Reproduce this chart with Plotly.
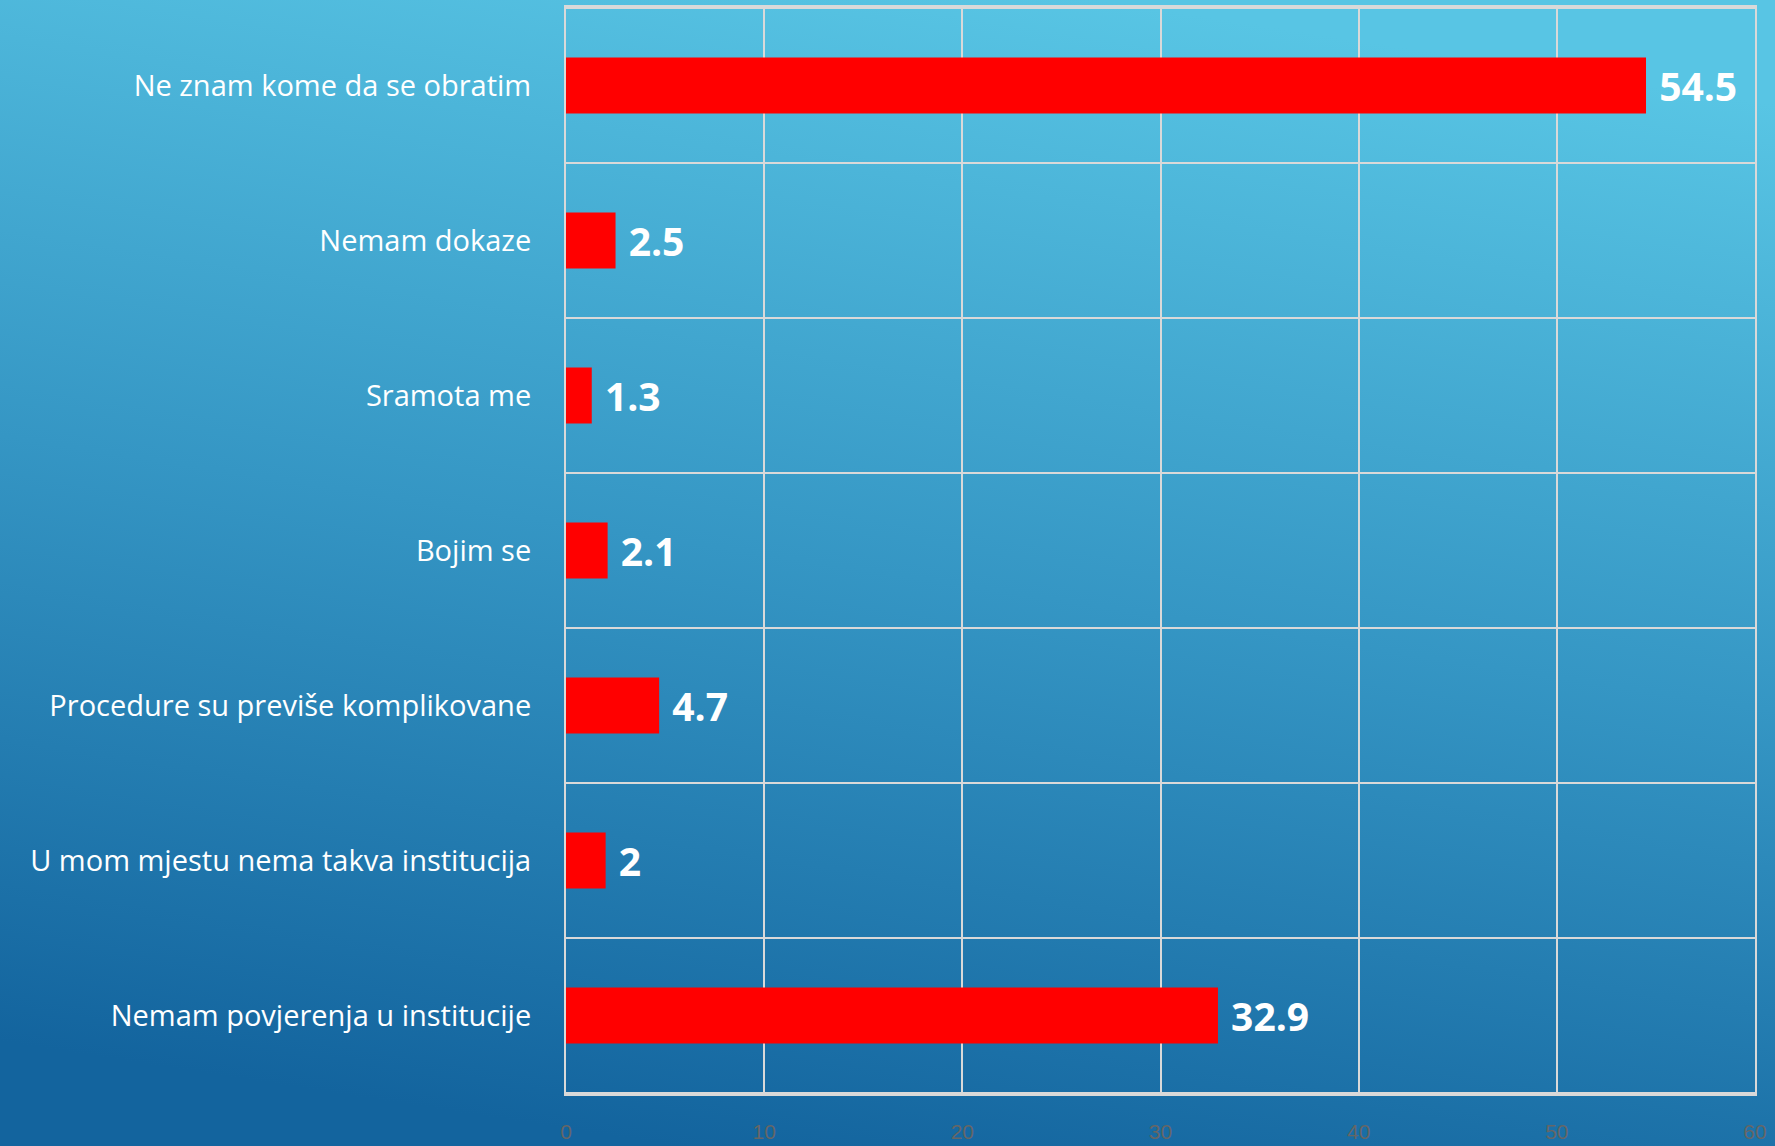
"""
Horizontal bar chart: razlozi neprijavljivanja (gradient background).
"""

import base64

import plotly.graph_objects as go

# Podaci
categories = [
    "Ne znam kome da se obratim",
    "Nemam dokaze",
    "Sramota me",
    "Bojim se",
    "Procedure su previše komplikovane",
    "U mom mjestu nema takva institucija",
    "Nemam povjerenja u institucije",
]
values = [54.5, 2.5, 1.3, 2.1, 4.7, 2, 32.9]
x_ticks = [0, 10, 20, 30, 40, 50, 60]

W, H = 1775, 1146
MARGIN = dict(l=566, r=20, t=7, b=52)

GRID = "#d9d9d9"
BAR = "#ff0000"

# Fondo degradado (SVG como imagen de fondo)
svg = f"""<svg xmlns='http://www.w3.org/2000/svg' width='{W}' height='{H}' preserveAspectRatio='none'>
<defs><linearGradient id='g' x1='0.62' y1='0' x2='0.38' y2='1'>
<stop offset='0' stop-color='#58c5e4'/>
<stop offset='0.5' stop-color='#3596c4'/>
<stop offset='1' stop-color='#13649e'/>
</linearGradient></defs>
<rect width='{W}' height='{H}' fill='url(#g)'/></svg>"""
bg_src = "data:image/svg+xml;base64," + base64.b64encode(svg.encode()).decode()

plot_w = W - MARGIN["l"] - MARGIN["r"]
plot_h = H - MARGIN["t"] - MARGIN["b"]

fig = go.Figure(
    go.Bar(
        x=values,
        y=categories,
        orientation="h",
        width=0.36,
        marker=dict(color=BAR, line=dict(width=0)),
        text=[f"\u00a0{v:g}" for v in values],
        textposition="outside",
        textfont=dict(family="Open Sans, sans-serif", size=39, color="white", weight="bold"),
        cliponaxis=False,
    )
)

# Líneas horizontales entre categorías
for i in range(len(categories) + 1):
    fig.add_shape(
        type="line",
        xref="paper",
        yref="y",
        x0=0,
        x1=1,
        y0=i - 0.5,
        y1=i - 0.5,
        line=dict(color=GRID, width=2),
        layer="below",
    )

fig.add_layout_image(
    source=bg_src,
    xref="paper",
    yref="paper",
    x=-MARGIN["l"] / plot_w,
    y=1 + MARGIN["t"] / plot_h,
    sizex=W / plot_w,
    sizey=H / plot_h,
    sizing="stretch",
    xanchor="left",
    yanchor="top",
    layer="below",
)

fig.update_layout(
    width=W,
    height=H,
    margin=MARGIN,
    paper_bgcolor="#2f8cbd",
    plot_bgcolor="rgba(0,0,0,0)",
    showlegend=False,
    bargap=0.6,
    font=dict(family="Open Sans, sans-serif", color="white"),
    xaxis=dict(
        range=[0, 60],
        tickvals=x_ticks,
        showgrid=True,
        gridcolor=GRID,
        gridwidth=2,
        zeroline=False,
        showline=True,
        linecolor=GRID,
        linewidth=2,
        mirror=True,
        ticks="",
        ticklabelstandoff=18,
        tickfont=dict(family="Liberation Sans Narrow, sans-serif", size=21, color="#666666"),
        automargin=False,
        fixedrange=True,
    ),
    yaxis=dict(
        autorange="reversed",
        showgrid=False,
        showline=True,
        linecolor=GRID,
        linewidth=2,
        mirror=True,
        ticks="",
        ticklabelstandoff=27,
        tickfont=dict(family="Open Sans, sans-serif", size=29, color="white"),
        automargin=False,
        fixedrange=True,
    ),
)

fig.write_html(
    "out.html",
    config={"displayModeBar": False},
    post_script="document.body.style.margin='0';document.body.style.overflow='hidden';",
)
